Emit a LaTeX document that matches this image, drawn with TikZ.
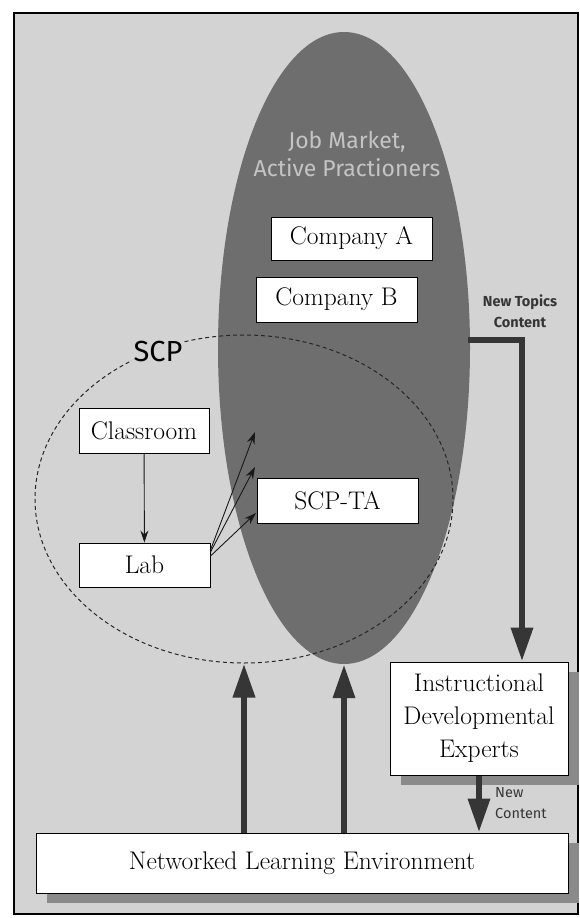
\documentclass[tikz,border=0pt]{standalone}
\usepackage{fontspec}
\newfontfamily\sansf{Fira Sans}
\usetikzlibrary{arrows.meta,shapes.geometric}
\definecolor{bg}{HTML}{D3D3D3}
\definecolor{oval}{HTML}{6E6E6E}
\definecolor{dark}{HTML}{363636}
\definecolor{shadowc}{HTML}{8A8A8A}
\definecolor{jmtext}{HTML}{C4C4C4}
\begin{document}
\begin{tikzpicture}[x=1pt,y=-1pt,
  box/.style={draw=black, line width=1pt, fill=white, inner sep=0pt, align=center,
    font=\fontsize{25.5}{33}\selectfont},
  shadowbox/.style={fill=shadowc, draw=none, inner sep=0pt},
  bigarrow/.style={draw=dark, line width=6.5pt,
    -{Triangle[length=34pt,width=21pt,color=dark]}},
  thinarrow/.style={draw=black!90, line width=0.9pt,
    -{Stealth[length=12pt,width=8pt]}},
  smalllabel/.style={font=\sansf\fontsize{14.5}{21}\selectfont, text=dark, align=left, inner sep=0pt}]
\useasboundingbox (0,0) rectangle (579,918);
% frame and background
\fill[white] (0,0) rectangle (579,918);
\draw[fill=bg, line width=1.2pt] (14,13) rectangle (578,914);
% big ellipse
\node[ellipse, fill=oval, draw=none, minimum width=252pt, minimum height=632pt, inner sep=0pt] (jm) at (344,348) {};
\node[font=\sansf\fontsize{23}{28}\selectfont, text=jmtext, align=center, inner sep=0pt] (jmt) at (347,154) {Job Market,\\Active Practioners};
% SCP dashed ellipse
\node[ellipse, draw=black!85, dash pattern=on 4pt off 3pt, line width=1pt, minimum width=418pt, minimum height=328pt, inner sep=0pt] (scp) at (244,499) {};
\node[fill=bg, font=\sansf\fontsize{29}{30}\selectfont, inner sep=2pt] (scpl) at (158,352) {SCP};
% boxes
\node[box, minimum width=161pt, minimum height=43pt] (ca) at (351.5,238.5) {Company A};
\node[box, minimum width=161pt, minimum height=45pt] (cb) at (336.5,299.5) {Company B};
\node[box, minimum width=130pt, minimum height=45pt] (cls) at (144,430.5) {Classroom};
\node[box, minimum width=131pt, minimum height=44pt] (lab) at (144.5,565) {Lab};
\node[box, minimum width=161pt, minimum height=45pt] (ta) at (337.5,500.5) {SCP-TA};
% shadows
\node[shadowbox, minimum width=178pt, minimum height=113pt] (ides) at (490,728.5) {};
\node[shadowbox, minimum width=532pt, minimum height=60pt] (nles) at (313,873) {};
\node[box, minimum width=178pt, minimum height=113pt] (ide) at (479,718.5) {Instructional\\Developmental\\Experts};
\node[box, minimum width=532pt, minimum height=60pt] (nle) at (302,863) {Networked Learning Environment};
% labels
\node[smalllabel, font=\sansf\bfseries\fontsize{14.5}{21}\selectfont, align=center] (ntl) at (520,311) {New Topics\\Content};
\node[smalllabel, anchor=west] (ncl) at (495,803.5) {New\\Content};
% connectors
\coordinate (t1) at (255,432);
\coordinate (t2) at (255,467);
\coordinate (t3) at (256,513);
\draw[thinarrow] (cls) -- (lab);
\draw[thinarrow] ([yshift=15pt]lab.east) -- (t1);
\draw[thinarrow] ([yshift=13pt]lab.east) -- (t2);
\draw[thinarrow] ([yshift=9pt]lab.east) -- (t3);
\draw[bigarrow, line join=miter] ([xshift=-2pt,yshift=8pt]jm.east) -| ([xshift=43pt]ide.north);
\draw[bigarrow] (nle.north -| scp.south) -- (scp.south);
\draw[bigarrow] (nle.north -| jm.south) -- (jm.south);
\draw[bigarrow] (ide.south) -- (nle.north -| ide.south);
\end{tikzpicture}
\end{document}
